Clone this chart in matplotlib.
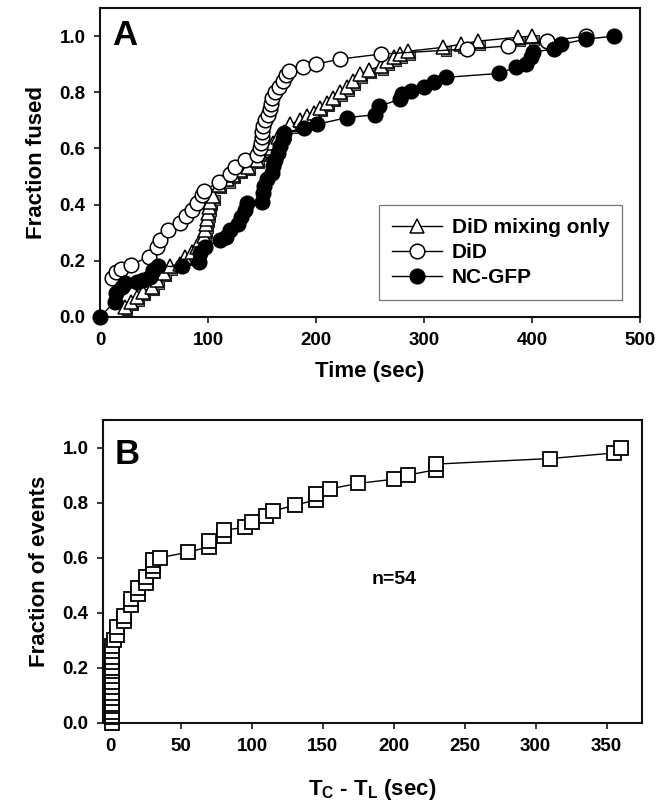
"""Cumulative fusion kinetics (A) and lag between content and lipid mixing (B)."""

import matplotlib

matplotlib.use("Agg")
import matplotlib.pyplot as plt
from matplotlib.transforms import offset_copy

plt.rcParams["font.family"] = ["Liberation Sans", "DejaVu Sans"]
plt.rcParams["font.weight"] = "bold"
plt.rcParams["mathtext.fontset"] = "custom"
plt.rcParams["mathtext.rm"] = "Liberation Sans:bold"
plt.rcParams["mathtext.bf"] = "Liberation Sans:bold"
plt.rcParams["mathtext.default"] = "bf"

# Panel A: fraction fused vs time (sec)
did_mix_t = [23, 29, 34, 40, 48, 53, 59, 65, 74, 79, 85, 90, 93, 96, 97, 98, 99,
             100, 101, 102, 105, 110, 118, 123, 130, 137, 145, 148, 155, 160, 165,
             170, 176, 185, 192, 198, 204, 210, 216, 222, 229, 234, 241, 249, 260,
             266, 272, 278, 285, 318, 334, 350, 387, 400]
did_mix_f = [0.036, 0.055, 0.07, 0.09, 0.107, 0.13, 0.157, 0.18, 0.19, 0.215, 0.23,
             0.25, 0.275, 0.29, 0.31, 0.33, 0.35, 0.37, 0.39, 0.41, 0.43, 0.47, 0.49,
             0.507, 0.525, 0.535, 0.56, 0.585, 0.6, 0.62, 0.64, 0.66, 0.686, 0.70,
             0.715, 0.727, 0.745, 0.763, 0.78, 0.80, 0.817, 0.84, 0.864, 0.88, 0.893,
             0.91, 0.925, 0.936, 0.946, 0.96, 0.971, 0.982, 0.996, 1.0]

did_t = [11, 15, 19, 29, 45, 53, 56, 63, 74, 80, 85, 90, 94, 96, 110, 120, 125, 134,
         145, 148, 149, 150, 150, 151, 153, 156, 157, 158, 159, 162, 166, 169, 172,
         175, 188, 200, 222, 260, 340, 378, 414, 450]
did_f = [0.14, 0.16, 0.17, 0.185, 0.215, 0.25, 0.275, 0.31, 0.335, 0.36, 0.38, 0.405,
         0.435, 0.45, 0.48, 0.51, 0.535, 0.56, 0.575, 0.60, 0.62, 0.64, 0.66, 0.68,
         0.70, 0.72, 0.74, 0.76, 0.78, 0.80, 0.82, 0.84, 0.86, 0.875, 0.89, 0.90,
         0.918, 0.936, 0.954, 0.965, 0.982, 1.0]

nc_t = [0, 14, 15, 20, 23, 34, 40, 46, 49, 54, 76, 92, 93, 97, 111, 117, 120, 128,
        131, 134, 136, 150, 151, 152, 155, 159, 160, 162, 165, 167, 169, 170, 189,
        201, 229, 255, 258, 278, 280, 288, 300, 309, 320, 369, 385, 394, 399, 401,
        420, 427, 450, 476]
nc_f = [0.0, 0.055, 0.085, 0.107, 0.12, 0.125, 0.13, 0.143, 0.168, 0.18, 0.18, 0.197,
        0.228, 0.25, 0.275, 0.286, 0.31, 0.33, 0.357, 0.38, 0.406, 0.41, 0.44, 0.465,
        0.49, 0.514, 0.536, 0.56, 0.585, 0.607, 0.632, 0.656, 0.672, 0.686, 0.71,
        0.72, 0.75, 0.775, 0.793, 0.804, 0.817, 0.835, 0.853, 0.867, 0.889, 0.90,
        0.925, 0.943, 0.954, 0.971, 0.989, 1.0]

# Panel B: fraction of events vs TC - TL (sec), n=54
lag_t = [1, 1, 1, 1, 1, 1, 1, 1, 1, 1, 1, 1, 1, 1, 1, 1,
         3, 5, 5, 10, 10, 15, 15, 20, 20, 25, 25, 30, 30, 30, 35, 55, 70, 70, 80,
         80, 95, 100, 110, 115, 130, 145, 145, 155, 175, 200, 210, 230, 230, 310,
         355, 360]
lag_f = [0.0, 0.02, 0.04, 0.06, 0.07, 0.09, 0.11, 0.13, 0.15, 0.17, 0.19, 0.20,
         0.22, 0.24, 0.26, 0.28,
         0.30, 0.32, 0.35, 0.37, 0.39, 0.43, 0.45, 0.47, 0.49, 0.51, 0.53, 0.55,
         0.57, 0.59, 0.60, 0.62, 0.64, 0.66, 0.68, 0.70, 0.71, 0.73, 0.75, 0.77,
         0.79, 0.81, 0.83, 0.85, 0.87, 0.885, 0.90, 0.92, 0.94, 0.96, 0.98, 1.0]

y_ticks = [0.0, 0.2, 0.4, 0.6, 0.8, 1.0]


def style_axis(axis):
    for spine in axis.spines.values():
        spine.set_linewidth(1.5)
        spine.set_color("#111111")
    axis.tick_params(direction="out", length=4.5, width=1.1, labelsize=13.5,
                     top=False, right=False, pad=6)
    axis.set_yticks(y_ticks)
    axis.set_yticklabels([f"{v:.1f}" for v in y_ticks])


fig = plt.figure(figsize=(6.68, 8.08), dpi=100)
ax_a = fig.add_axes([0.1497, 0.6077, 0.8084, 0.3824])
ax_b = fig.add_axes([0.1542, 0.1052, 0.8070, 0.3750])

marker_kw = dict(markersize=10.5, markeredgewidth=1.1, markeredgecolor="black",
                 linewidth=1.0, color="black", clip_on=False)

shadow = offset_copy(ax_a.transData, fig=fig, x=1.5, y=-2.5, units="points")
ax_a.plot(did_mix_t, did_mix_f, "s", markersize=7.5, markerfacecolor="#7a7a7a",
          markeredgecolor="#222222", markeredgewidth=0.8, linestyle="none",
          transform=shadow, zorder=2, clip_on=False)
ax_a.plot(did_mix_t, did_mix_f, "-^", markerfacecolor="white",
          label="DiD mixing only", zorder=3, **marker_kw)
ax_a.plot(did_t, did_f, "-o", markerfacecolor="white", label="DiD", zorder=4,
          **marker_kw)
ax_a.plot(nc_t, nc_f, "-o", markerfacecolor="black", label="NC-GFP", zorder=5,
          **marker_kw)

ax_a.set_xlim(0, 500)
ax_a.set_ylim(0, 1.1)
ax_a.set_xticks([0, 100, 200, 300, 400, 500])
style_axis(ax_a)
ax_a.set_xlabel("Time (sec)", fontsize=16, fontweight="bold", labelpad=9)
ax_a.set_ylabel("Fraction fused", fontsize=16, fontweight="bold", labelpad=9)
ax_a.text(0.022, 0.965, "A", transform=ax_a.transAxes, fontsize=25,
          fontweight="bold", va="top", ha="left")
legend = ax_a.legend(loc="lower right", bbox_to_anchor=(0.967, 0.055),
                     fontsize=15, frameon=True, fancybox=False,
                     handlelength=2.4, handletextpad=0.5, borderpad=0.6,
                     labelspacing=0.3, borderaxespad=0)
legend.get_frame().set_edgecolor("#555555")
legend.get_frame().set_linewidth(0.9)

ax_b.plot(lag_t, lag_f, "-s", markerfacecolor="white", markersize=9.5,
          markeredgewidth=1.3, markeredgecolor="black", linewidth=1.0,
          color="black", clip_on=False)
ax_b.set_xlim(-5, 375)
ax_b.set_ylim(0, 1.1)
ax_b.set_xticks([0, 50, 100, 150, 200, 250, 300, 350])
style_axis(ax_b)
ax_b.set_xlabel(r"T$_{C}$ - T$_{L}$ (sec)", fontsize=16, fontweight="bold",
                labelpad=16)
ax_b.set_ylabel("Fraction of events", fontsize=16, fontweight="bold",
                labelpad=9)
ax_b.text(0.022, 0.94, "B", transform=ax_b.transAxes, fontsize=25,
          fontweight="bold", va="top", ha="left")
ax_b.text(200, 0.52, "n=54", fontsize=14, fontweight="bold", ha="center",
          va="center")

fig.savefig("out.png", dpi=100)
